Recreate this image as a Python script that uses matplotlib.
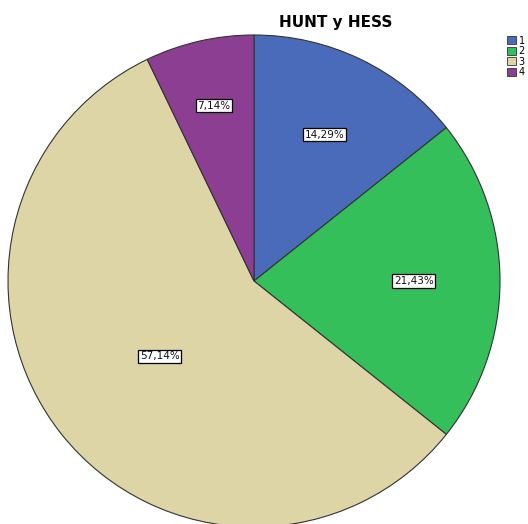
import numpy as np
import matplotlib.pyplot as plt
import matplotlib.patches as mpatches

categories = ["1", "2", "3", "4"]
counts = [2, 3, 8, 1]
colors = ["#4a6bba", "#35bf5a", "#ddd5a5", "#8c3f92"]

# radial position of each percent label (fraction of radius)
label_r = [0.66, 0.65, 0.49, 0.73]

fig = plt.figure(figsize=(5.28, 5.24), dpi=100)
ax = fig.add_axes([8 / 528, -3 / 524, 492 / 528, 492 / 524])


def fmt(p):
    return ("%.2f%%" % p).replace(".", ",")


wedges, texts, autotexts = ax.pie(counts, colors=colors, startangle=90, counterclock=False,
                                  autopct=fmt, pctdistance=0.66,
                                  wedgeprops=dict(edgecolor="#333333", linewidth=0.8))
for w, t, r in zip(wedges, autotexts, label_r):
    mid = np.deg2rad((w.theta1 + w.theta2) / 2.0)
    t.set_position((r * np.cos(mid), r * np.sin(mid)))
    t.set_fontsize(7.5)
    t.set_color("#111111")
    t.set_bbox(dict(facecolor="white", edgecolor="black", linewidth=0.9, pad=0.15, boxstyle="square"))
ax.set_aspect("equal")
ax.set_xlim(-1, 1)
ax.set_ylim(-1, 1)

fig.text(0.635, 0.958, "HUNT y HESS", ha="center", va="center", fontsize=11, fontweight="bold")

patch = []
for c, col in zip(categories, colors):
    patch.append(mpatches.Patch(facecolor=col, edgecolor="#333333", linewidth=0.6, label=c))
fig.legend(handles=patch, loc="upper left", bbox_to_anchor=(0.96, 0.932), frameon=False,
           fontsize=7, handlelength=0.9, handleheight=0.9, handletextpad=0.3,
           labelspacing=0.05, borderpad=0, borderaxespad=0)

fig.savefig("out.png", dpi=100)
